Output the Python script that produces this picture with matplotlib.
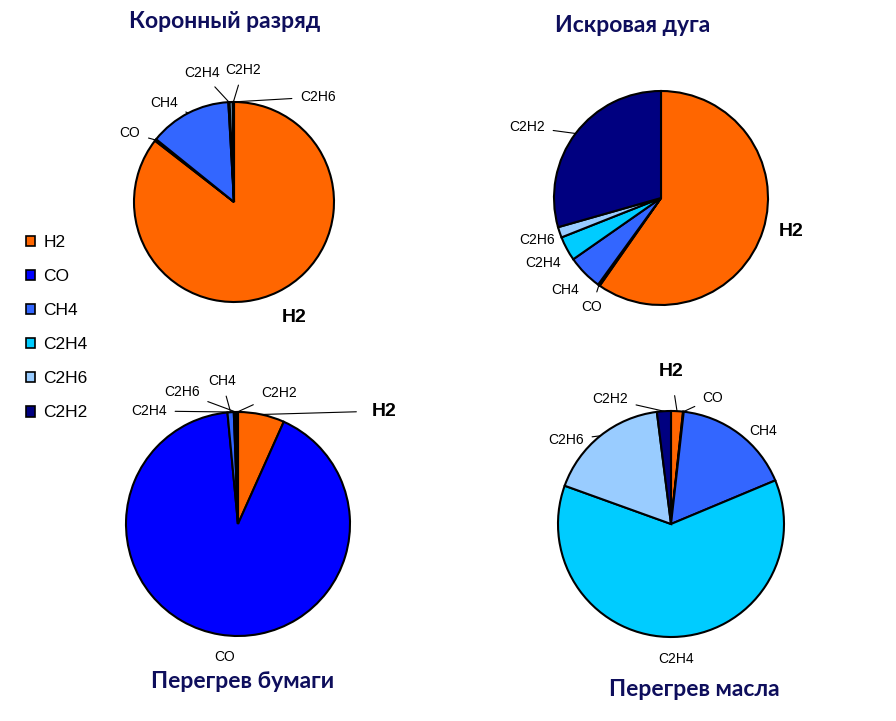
import matplotlib.pyplot as plt
import numpy as np

# Газы (порядок как в легенде)
gases = ["H2", "CO", "CH4", "C2H4", "C2H6", "C2H2"]
colors = ["#FF6600", "#0000FF", "#3366FF", "#00CCFF", "#99CCFF", "#000080"]

# Доли газов, % (оценка по рисунку)
corona = [85.5, 0.3, 13.3, 0.2, 0.5, 0.2]
arc = [59.7, 0.3, 5.3, 3.7, 1.6, 29.4]
paper = [6.7, 91.8, 0.9, 0.2, 0.2, 0.2]
oil = [1.7, 0.1, 16.9, 61.8, 17.5, 2.0]

titles = ["Коронный разряд", "Искровая дуга", "Перегрев бумаги", "Перегрев масла"]

W, H = 896, 721

# геометрия: центр (px, сверху), радиус, позиция заголовка
pies = [
    dict(data=corona, c=(234, 202), r=100, title=(225, 22)),
    dict(data=arc, c=(661, 198), r=107, title=(633, 26)),
    dict(data=paper, c=(238, 524), r=112, title=(243, 682)),
    dict(data=oil, c=(671, 524), r=113, title=(694, 690)),
]

# подписи: (газ, x, y, линия-выноска)
labels = [
    [("CO", 130, 133, True), ("CH4", 164, 103, True), ("C2H4", 202, 73, True),
     ("C2H2", 243, 70, True), ("C2H6", 318, 97, True), ("H2", 294, 317, False)],
    [("C2H2", 527, 127, True), ("C2H6", 537, 240, False), ("C2H4", 543, 263, False),
     ("CH4", 565, 290, False), ("CO", 592, 307, True), ("H2", 791, 232, False)],
    [("C2H4", 149, 411, True), ("C2H6", 182, 392, True), ("CH4", 222, 381, True),
     ("C2H2", 279, 393, True), ("H2", 384, 411, True), ("CO", 225, 657, False)],
    [("H2", 671, 372, True), ("C2H2", 610, 399, True), ("CO", 713, 398, True),
     ("C2H6", 566, 440, True), ("CH4", 763, 431, False), ("C2H4", 676, 659, False)],
]

fig = plt.figure(figsize=(8.96, 7.21), dpi=100)
ax = fig.add_axes([0, 0, 1, 1])

title_color = "#0E0E5C"

for p, labs, t in zip(pies, labels, titles):
    cx, cy = p["c"][0], H - p["c"][1]
    wedges, _ = ax.pie(p["data"], colors=colors, startangle=90, counterclock=False,
                       center=(cx, cy), radius=p["r"], frame=True,
                       wedgeprops=dict(edgecolor="black", linewidth=1.5))
    for name, lx, ly, line in labs:
        w = wedges[gases.index(name)]
        mid = np.deg2rad((w.theta1 + w.theta2) / 2)
        px = cx + p["r"] * np.cos(mid)
        py = cy + p["r"] * np.sin(mid)
        bold = name == "H2"
        ax.annotate(name, xy=(px, py), xytext=(lx, H - ly),
                    ha="center", va="center",
                    fontsize=14 if bold else 10,
                    fontweight="bold" if bold else "normal",
                    family="Liberation Sans", color="black",
                    arrowprops=dict(arrowstyle="-", color="black", lw=0.8,
                                    shrinkA=4 if not bold else 9, shrinkB=0) if line else None)
    ax.text(p["title"][0], H - p["title"][1], t, ha="center", va="center",
            fontsize=16.5, fontweight="bold", family="Lato", color=title_color)

# легенда слева
handles = [plt.Rectangle((0, 0), 1, 1, facecolor=c, edgecolor="black", lw=1.2) for c in colors]
leg = fig.legend(handles, gases, loc="upper left", bbox_to_anchor=(19 / W, 1 - 228 / H),
                 frameon=False, prop=dict(family="Liberation Sans", size=12.5),
                 handlelength=0.55, handleheight=0.55, handletextpad=0.45, labelspacing=1.1,
                 borderaxespad=0)

ax.set_xlim(0, W)
ax.set_ylim(0, H)
ax.set_aspect("equal")
ax.axis("off")

fig.savefig("out.png", dpi=100, facecolor="white")
